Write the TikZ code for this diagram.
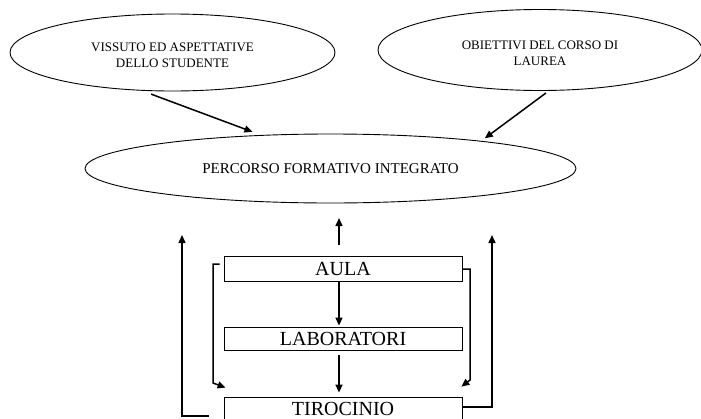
\documentclass[tikz,border=0pt]{standalone}
\usepackage{fontspec}
\setmainfont{Liberation Serif}
\usetikzlibrary{shapes.geometric,arrows.meta}
\begin{document}
\begin{tikzpicture}[x=1pt,y=-1pt,
  oval/.style={draw,ellipse,line width=0.9pt,inner sep=0pt,align=center},
  stage/.style={draw,rectangle,line width=0.8pt,minimum width=238pt,inner sep=0pt,font=\fontsize{20}{20}\selectfont},
  arr/.style={line width=1.5pt,-{Triangle[length=8pt,width=7pt]}}]
\useasboundingbox (0,0) rectangle (701,418);
\clip (0,0) rectangle (701,418);

\node[oval,minimum width=325pt,minimum height=77pt,font=\fontsize{13}{16}\selectfont] (e1) at (172.5,52.5)
  {\rule{0pt}{14pt}VISSUTO ED ASPETTATIVE\\DELLO STUDENTE};
\node[oval,minimum width=324pt,minimum height=81pt,font=\fontsize{13}{16}\selectfont] (e2) at (540,50)
  {\rule{0pt}{16pt}OBIETTIVI DEL CORSO DI\\LAUREA};
\node[oval,minimum width=491pt,minimum height=69pt,font=\fontsize{15}{16}\selectfont] (p) at (330.5,168.5)
  {PERCORSO FORMATIVO INTEGRATO};

\node[stage,minimum height=25pt] (aula) at (343,268.5) {AULA};
\node[stage,minimum height=23pt] (lab) at (343,338.5) {LABORATORI};
\node[stage,minimum height=24pt] (tir) at (343,409) {TIROCINIO};

\coordinate (mbot) at (339,245);
\coordinate (mtop) at (339,218);
\coordinate (lup) at (182,235);
\coordinate (rup) at (492,235);
\coordinate (lc) at (213,383);
\coordinate (rc) at (470,380);

\draw[arr] ([yshift=-3pt]e1.241.8) -- ([yshift=3.5pt]p.157.1);
\draw[arr] ([xshift=6pt,yshift=-2pt]e2.south) -- ([yshift=3pt]p.10.4);

\draw[arr] (mbot) -- (mtop);
\draw[arr] ([xshift=-4pt]aula.south) -- ([xshift=-4pt,yshift=1pt]lab.north);
\draw[arr] ([xshift=-4pt,yshift=-5pt]lab.south) -- ([xshift=-4pt,yshift=4pt]tir.north);

\draw[arr] ([xshift=-15pt,yshift=-7pt]tir.west) -| (lup);
\draw[arr] ([yshift=2pt]tir.east) -| (rup);

\draw[arr] ([xshift=-4pt,yshift=4.5pt]aula.west) -| (lc) -- ([xshift=2pt,yshift=9pt]tir.north west);
\draw[arr] ([yshift=-0.5pt]aula.east) -| (rc) -- ([xshift=-1pt,yshift=10pt]tir.north east);
\end{tikzpicture}
\end{document}
